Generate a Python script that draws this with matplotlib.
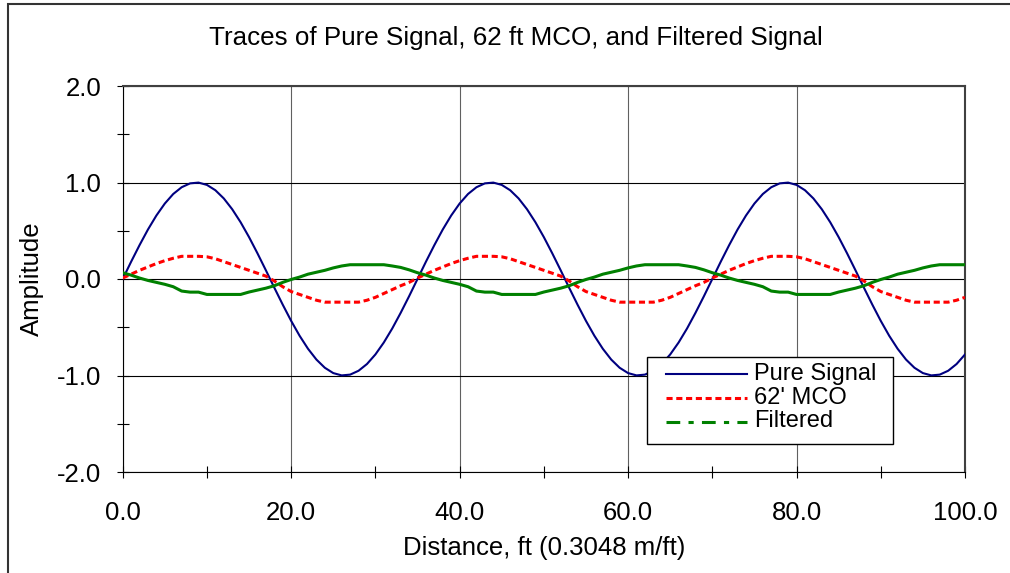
import numpy as np
import matplotlib
matplotlib.use("Agg")
import matplotlib.pyplot as plt
from matplotlib.lines import Line2D
from matplotlib.patches import Rectangle
from matplotlib.ticker import MultipleLocator, FormatStrFormatter

plt.rcParams['font.family'] = ['Liberation Sans', 'DejaVu Sans']

# distance along the trace, ft (1 ft sampling)
distance = list(range(101))

# pure signal, wavelength ~35 ft
pure = [0.0, 0.179, 0.351, 0.513, 0.658, 0.782, 0.881, 0.951, 0.991, 0.999,
        0.975, 0.920, 0.835, 0.723, 0.588, 0.434, 0.266, 0.090, -0.090, -0.266,
        -0.434, -0.588, -0.723, -0.835, -0.920, -0.975, -0.999, -0.991, -0.951, -0.881,
        -0.782, -0.658, -0.513, -0.351, -0.179,
        0.0, 0.179, 0.351, 0.513, 0.658, 0.782, 0.881, 0.951, 0.991, 0.999,
        0.975, 0.920, 0.835, 0.723, 0.588, 0.434, 0.266, 0.090, -0.090, -0.266,
        -0.434, -0.588, -0.723, -0.835, -0.920, -0.975, -0.999, -0.991, -0.951, -0.881,
        -0.782, -0.658, -0.513, -0.351, -0.179,
        0.0, 0.179, 0.351, 0.513, 0.658, 0.782, 0.881, 0.951, 0.991, 0.999,
        0.975, 0.920, 0.835, 0.723, 0.588, 0.434, 0.266, 0.090, -0.090, -0.266,
        -0.434, -0.588, -0.723, -0.835, -0.920, -0.975, -0.999, -0.991, -0.951, -0.881,
        -0.782]

# 62 ft MCO trace
mco = [0.01, 0.05, 0.09, 0.125, 0.16, 0.19, 0.215, 0.235, 0.235, 0.235,
       0.23, 0.21, 0.18, 0.15, 0.12, 0.09, 0.06, 0.03, -0.02, -0.08,
       -0.13, -0.16, -0.19, -0.22, -0.24, -0.24, -0.24, -0.24, -0.24, -0.22,
       -0.19, -0.15, -0.11, -0.07, -0.035,
       0.01, 0.05, 0.09, 0.125, 0.16, 0.19, 0.215, 0.235, 0.235, 0.235,
       0.23, 0.21, 0.18, 0.15, 0.12, 0.09, 0.06, 0.03, -0.02, -0.08,
       -0.13, -0.16, -0.19, -0.22, -0.24, -0.24, -0.24, -0.24, -0.24, -0.22,
       -0.19, -0.15, -0.11, -0.07, -0.035,
       0.01, 0.05, 0.09, 0.125, 0.16, 0.19, 0.215, 0.235, 0.235, 0.235,
       0.23, 0.21, 0.18, 0.15, 0.12, 0.09, 0.06, 0.03, -0.02, -0.08,
       -0.13, -0.16, -0.19, -0.22, -0.24, -0.24, -0.24, -0.24, -0.24, -0.22,
       -0.19]

# filtered signal
filtered = [0.065, 0.04, 0.01, -0.015, -0.035, -0.055, -0.08, -0.125, -0.136, -0.136,
            -0.16, -0.16, -0.16, -0.16, -0.16, -0.135, -0.115, -0.095, -0.07, -0.035,
            -0.005, 0.02, 0.05, 0.07, 0.09, 0.115, 0.135, 0.148, 0.148, 0.148,
            0.148, 0.148, 0.135, 0.12, 0.095,
            0.065, 0.04, 0.01, -0.015, -0.035, -0.055, -0.08, -0.125, -0.136, -0.136,
            -0.16, -0.16, -0.16, -0.16, -0.16, -0.135, -0.115, -0.095, -0.07, -0.035,
            -0.005, 0.02, 0.05, 0.07, 0.09, 0.115, 0.135, 0.148, 0.148, 0.148,
            0.148, 0.148, 0.135, 0.12, 0.095,
            0.065, 0.04, 0.01, -0.015, -0.035, -0.055, -0.08, -0.125, -0.136, -0.136,
            -0.16, -0.16, -0.16, -0.16, -0.16, -0.135, -0.115, -0.095, -0.07, -0.035,
            -0.005, 0.02, 0.05, 0.07, 0.09, 0.115, 0.135, 0.148, 0.148, 0.148,
            0.148]

labels = ["Pure Signal", "62' MCO", "Filtered"]
W, H = 1010, 573


def fx(x):
    return x / W


def fy(y):
    return 1 - y / H


fig = plt.figure(figsize=(10.1, 5.73), dpi=100)

# outer chart border (only top and left visible)
fig.patches.append(Rectangle((fx(8), -0.1), 1.2, fy(4) + 0.1, transform=fig.transFigure,
                             fill=False, edgecolor='#333333', lw=1.5))

ax = fig.add_axes([fx(122.7), fy(472), fx(965) - fx(122.7), fy(86) - fy(472)])

ax.plot(distance, pure, color='#000080', lw=1.5, zorder=3)
ax.plot(distance, mco, color='#ff0000', lw=2.2, linestyle=(0, (2, 1.2)), zorder=3)
ax.plot(distance, filtered, color='#008000', lw=2.2, zorder=3)

ax.set_xlim(0, 100)
ax.set_ylim(-2, 2)
ax.xaxis.set_major_locator(MultipleLocator(20))
ax.xaxis.set_minor_locator(MultipleLocator(10))
ax.yaxis.set_major_locator(MultipleLocator(1))
ax.yaxis.set_minor_locator(MultipleLocator(0.5))
ax.xaxis.set_major_formatter(FormatStrFormatter('%.1f'))
ax.yaxis.set_major_formatter(FormatStrFormatter('%.1f'))

ax.xaxis.grid(True, color='#606060', lw=0.8, zorder=0)
ax.yaxis.grid(True, color='black', lw=0.8, zorder=0)
ax.set_axisbelow(True)

ax.tick_params(which='both', direction='inout', length=9, width=0.8, color='black',
               labelsize=18.5)
ax.tick_params(axis='x', which='major', pad=16.5)
ax.tick_params(axis='y', which='major', pad=11)

for s in ['left', 'bottom']:
    ax.spines[s].set_color('black')
    ax.spines[s].set_linewidth(0.8)
for s in ['top', 'right']:
    ax.spines[s].set_color('#404040')
    ax.spines[s].set_linewidth(1.5)

ax.set_xlabel('Distance, ft (0.3048 m/ft)', fontsize=18.5, labelpad=8)
ax.set_ylabel('Amplitude', fontsize=18.5, labelpad=9)

fig.text(fx(516), fy(45), 'Traces of Pure Signal, 62 ft MCO, and Filtered Signal',
         fontsize=18.7, ha='center', va='baseline')

# legend drawn by hand so rows can sit as tight as the original
fig.patches.append(Rectangle((fx(647), fy(444)), fx(893) - fx(647), fy(357) - fy(444),
                             transform=fig.transFigure, facecolor='white',
                             edgecolor='black', lw=1.0, zorder=5))
styles = [dict(color='#000080', lw=1.5, linestyle='-'),
          dict(color='#ff0000', lw=2.2, linestyle=(0, (2, 1.2))),
          dict(color='#008000', lw=2.2, linestyle=(0, (4.5, 2.7, 1.7, 2.7)))]
line_y = [374, 397.5, 422]
text_y = [380, 404.3, 426.7]
for lab, st, ly, ty in zip(labels, styles, line_y, text_y):
    fig.lines.append(Line2D([fx(666), fx(747)], [fy(ly), fy(ly)],
                            transform=fig.transFigure, zorder=6, **st))
    fig.text(fx(754), fy(ty), lab, fontsize=17, ha='left', va='baseline', zorder=6)

fig.savefig('out.png', dpi=100)
